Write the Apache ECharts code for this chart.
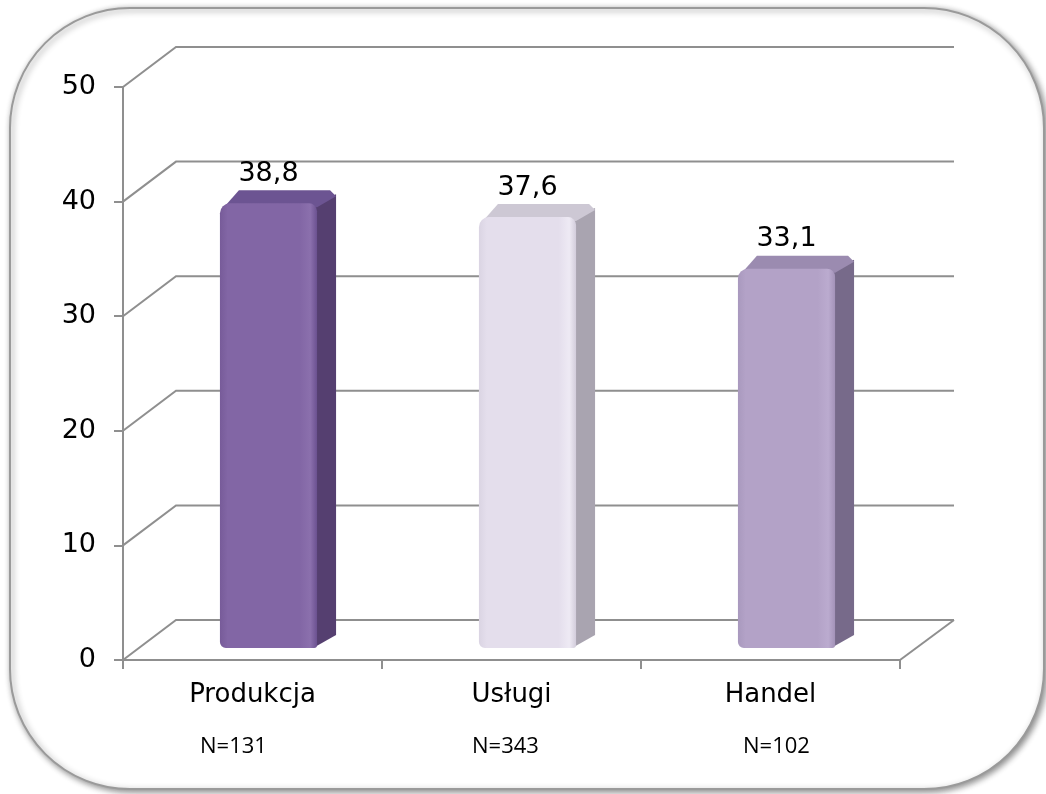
<!DOCTYPE html>
<html>
<head>
<meta charset="utf-8">
<script src="https://cdn.jsdelivr.net/npm/echarts@6/dist/echarts.min.js"></script>
<style>
html,body{margin:0;padding:0;background:#fff;}
#main{width:1046px;height:794px;}
</style>
</head>
<body>
<div id="main"></div>
<script>
var categories = ['Produkcja', 'Usługi', 'Handel'];
var values = [38.8, 37.6, 33.1];
var nLabels = ['N=131', 'N=343', 'N=102'];
var yTicks = [0, 10, 20, 30, 40, 50];

var nOffsetX = [-19, -6, 6];
var palettes = [
  {front: ['#775B99', '#8266A5', '#8B70AD', '#6B5190'], side: '#553F70', top: '#6C5492'},
  {front: ['#DAD4E3', '#E4DEEC', '#EEEAF4', '#D2CCDB'], side: '#A9A4B0', top: '#CDC8D4'},
  {front: ['#A999BE', '#B3A2C7', '#BBABCF', '#A392B8'], side: '#776A8A', top: '#9B8BB0'}
];
var DX = 53, DY = -40;
var BX = 16, BY = -12;
var BDX = 19, BDY = -13;

var chart = echarts.init(document.getElementById('main'));

function fmt(v){ return String(v).replace('.', ','); }

var option = {
  backgroundColor: '#ffffff',
  animation: false,
  graphic: [{
    type: 'rect', z: -10, silent: true,
    shape: {x: 10, y: 8, width: 1034, height: 781, r: 120},
    style: {fill: '#ffffff', stroke: '#9a9a9a', lineWidth: 2,
      shadowBlur: 6, shadowOffsetX: 2, shadowOffsetY: 2, shadowColor: 'rgba(0,0,0,0.45)'}
  }],
  grid: {left: 123, right: 146, top: 87, bottom: 134},
  xAxis: {
    type: 'category', data: categories, boundaryGap: true,
    axisLine: {show: true, lineStyle: {color: '#8f8f8f', width: 2}},
    axisTick: {show: true, length: 9, lineStyle: {color: '#8f8f8f', width: 2}},
    axisLabel: {fontFamily: 'DejaVu Sans', fontSize: 26, color: '#000', margin: 22},
    splitLine: {show: false}
  },
  yAxis: {
    type: 'value', min: 0, max: 50, interval: 10,
    axisLine: {show: true, lineStyle: {color: '#8f8f8f', width: 2}},
    axisTick: {show: true, length: 9, lineStyle: {color: '#8f8f8f', width: 2}},
    axisLabel: {fontFamily: 'DejaVu Sans', fontSize: 27, color: '#000', margin: 27},
    splitLine: {show: false}
  },
  series: [
    {
      type: 'custom', z: 1, silent: true,
      data: yTicks.map(function (v) { return [0, v]; }),
      renderItem: function (params, api) {
        var cs = params.coordSys;
        var v = api.value(1);
        var y = api.coord([0, v])[1];
        var children = [{
          type: 'polyline',
          shape: {points: [[cs.x, y], [cs.x + DX, y + DY], [cs.x + cs.width + DX + 1, y + DY]]},
          style: {stroke: '#8f8f8f', lineWidth: 2, fill: null}
        }];
        if (v === 0) {
          children.push({
            type: 'line',
            shape: {x1: cs.x + cs.width, y1: y, x2: cs.x + cs.width + DX + 1, y2: y + DY},
            style: {stroke: '#8f8f8f', lineWidth: 2}
          });
        }
        return {type: 'group', children: children};
      }
    },
    {
      type: 'custom', z: 3, silent: true,
      data: values.map(function (v, i) { return [i, v]; }),
      renderItem: function (params, api) {
        var i = api.value(0), v = api.value(1);
        var top = api.coord([i, v]);
        var base = api.coord([i, 0]);
        var band = api.size([1, 0])[0];
        var w = band * 0.375;
        var x0 = top[0] - w / 2 + BX, x1 = x0 + w;
        var yT = top[1] + BY, yB = base[1] + BY;
        var p = palettes[i];
        return {
          type: 'group',
          children: [
            {
              type: 'polygon',
              shape: {points: [[x1 - 4, yT], [x1 + BDX, yT + BDY + 4], [x1 + BDX, yB + BDY], [x1 - 4, yB]]},
              style: {fill: p.side}
            },
            {
              type: 'polygon',
              shape: {points: [[x0 + 4, yT + 4], [x0 + BDX, yT + BDY], [x1 + BDX - 6, yT + BDY], [x1 + BDX, yT + BDY + 6], [x1, yT + 4]]},
              style: {fill: p.top}
            },
            {
              type: 'rect',
              shape: {x: x0, y: yT, width: w, height: yB - yT, r: [10, 8, 3, 6]},
              style: {fill: new echarts.graphic.LinearGradient(0, 0, 1, 0, [
                {offset: 0, color: p.front[0]},
                {offset: 0.08, color: p.front[1]},
                {offset: 0.82, color: p.front[1]},
                {offset: 0.93, color: p.front[2]},
                {offset: 1, color: p.front[3]}
              ])}
            },
            {
              type: 'text',
              style: {
                text: fmt(v), x: (x0 + x1) / 2, y: yT + BDY - 3,
                align: 'center', verticalAlign: 'bottom',
                fontFamily: 'DejaVu Sans', fontSize: 27, fill: '#000'
              }
            }
          ]
        };
      }
    },
    {
      type: 'custom', z: 3, silent: true,
      data: nLabels.map(function (t, i) { return [i, 0]; }),
      renderItem: function (params, api) {
        var i = api.value(0);
        var p = api.coord([i, 0]);
        return {
          type: 'text',
          style: {
            text: nLabels[i], x: p[0] + nOffsetX[i], y: p[1] + 87,
            align: 'center', verticalAlign: 'middle',
            fontFamily: 'Open Sans', fontSize: 22, fill: '#000'
          }
        };
      }
    }
  ]
};
chart.setOption(option);
</script>
</body>
</html>
